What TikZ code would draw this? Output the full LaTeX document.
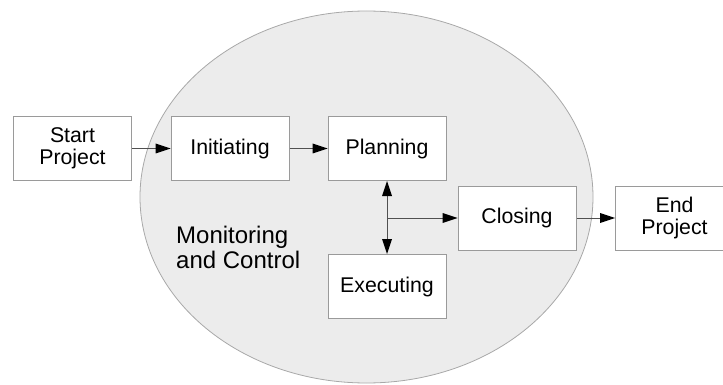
\documentclass[tikz,border=0pt]{standalone}
\usepackage{fontspec}
\setmainfont{Liberation Sans}
\usetikzlibrary{arrows.meta}
\definecolor{ellfill}{HTML}{ECECEC}
\definecolor{ellline}{HTML}{A8A8A8}
\definecolor{boxline}{HTML}{9A9A9A}
\definecolor{arrline}{HTML}{505050}
\begin{document}
\begin{tikzpicture}[x=1pt,y=-1pt,
  tip/.tip={Triangle[length=15pt,width=10pt,color=black,fill=black,line width=0pt]},
  procbox/.style={draw=boxline,line width=1pt,fill=white,minimum width=118pt,minimum height=64pt,inner sep=0pt,align=center,font=\fontsize{21.3}{21.5}\selectfont},
  flow/.style={draw=arrline,line width=1pt,-tip},
  both/.style={draw=arrline,line width=1pt,tip-tip}]
\useasboundingbox (0,0) rectangle (723,385);
\draw[ellline,fill=ellfill,line width=0.8pt] (366.5,197) ellipse [x radius=226.5, y radius=186];
\node[procbox] (start) at (72.5,148.5) {Start\\Project};
\node[procbox] (init) at (230,148.5) {Initiating};
\node[procbox] (plan) at (387,148.5) {Planning};
\node[procbox] (close) at (517,218) {Closing};
\node[procbox,anchor=west] (end) at (615,218) {End\\Project};
\node[procbox] (exec) at (387,286.5) {Executing};
\node[align=left,anchor=north west,inner sep=0pt,font=\fontsize{24}{24.5}\selectfont] (mon) at (176,226) {Monitoring\\and Control};
\coordinate (branch) at (387,218);
\draw[flow] (start) -- (init);
\draw[flow] (init) -- (plan);
\draw[both] (plan) -- (exec);
\draw[flow] (branch) -- (close);
\draw[flow] (close) -- (end);
\end{tikzpicture}
\end{document}
